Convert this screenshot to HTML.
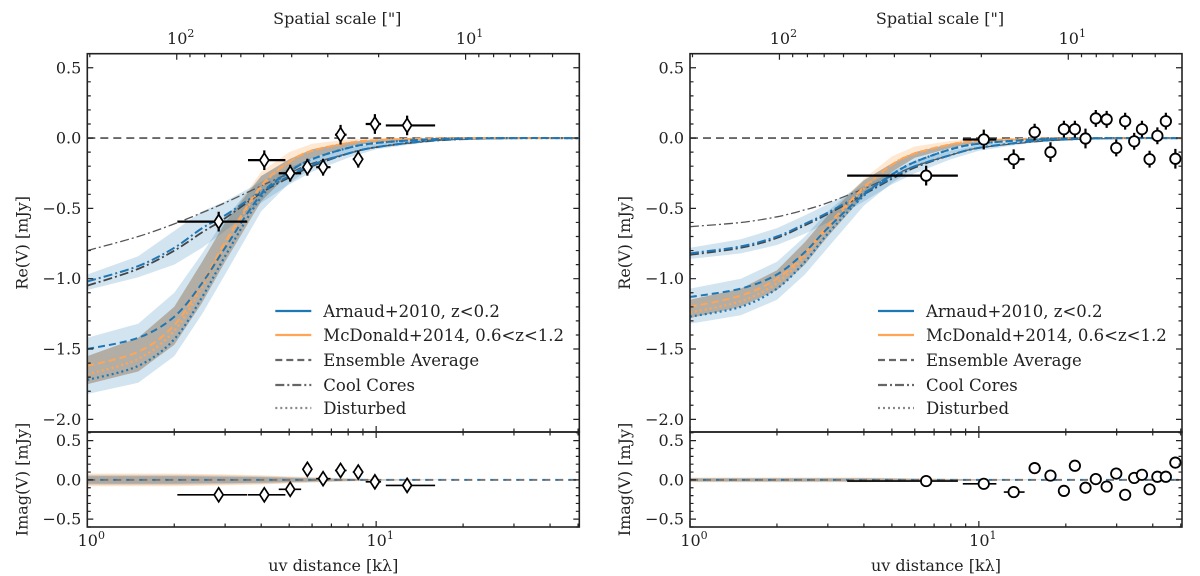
<!DOCTYPE html>
<html><head><meta charset="utf-8">
<style>
html,body{margin:0;padding:0;background:#fff;}
svg{display:block;}
text{font-family:"DejaVu Serif","Liberation Serif",serif;fill:#222;}
</style></head>
<body>
<svg id="fig" width="1200" height="576" viewBox="0 0 1200 576" xmlns="http://www.w3.org/2000/svg"></svg>
<script>
// ---- shared grid of uv distances for model curves ----
const XS = [1,1.5,2,2.5,3,4,5,6,8,10,15,20,30,50];
// ---- LEFT panel data ----
const L_ensBlue   = [-1.5,-1.42,-1.27,-1.03,-0.78,-0.4,-0.24,-0.15,-0.07,-0.035,-0.01,-0.003,0,0];
const L_ensOrange = [-1.62,-1.52,-1.33,-1.03,-0.74,-0.34,-0.17,-0.09,-0.035,-0.015,-0.003,0,0,0];
const L_distBlue  = [-1.72,-1.62,-1.43,-1.13,-0.84,-0.42,-0.24,-0.15,-0.07,-0.035,-0.01,-0.003,0,0];
const L_distOrange= [-1.68,-1.57,-1.37,-1.06,-0.76,-0.35,-0.17,-0.09,-0.035,-0.015,-0.003,0,0,0];
const L_coolBlue  = [-1.02,-0.91,-0.78,-0.64,-0.55,-0.38,-0.27,-0.19,-0.11,-0.065,-0.02,-0.006,0,0];
const L_coolGray  = [-1.05,-0.93,-0.8,-0.67,-0.57,-0.39,-0.28,-0.2,-0.11,-0.065,-0.02,-0.006,0,0];
const L_coolGray2 = [-0.8,-0.7,-0.61,-0.53,-0.46,-0.34,-0.25,-0.18,-0.11,-0.065,-0.025,-0.01,-0.002,0];
const L_bandBlueLo = [-1.82,-1.74,-1.55,-1.25,-0.97,-0.52,-0.32,-0.21,-0.11,-0.065,-0.02,-0.008,0,0];
const L_bandBlueHi = [-1.42,-1.32,-1.1,-0.82,-0.57,-0.27,-0.15,-0.08,-0.03,-0.01,0,0,0,0];
const L_bandOrLo = [-1.75,-1.66,-1.47,-1.17,-0.88,-0.45,-0.25,-0.14,-0.06,-0.03,-0.008,0,0,0];
const L_bandOrHi = [-1.55,-1.42,-1.2,-0.88,-0.6,-0.24,-0.1,-0.04,-0.01,0,0,0,0,0];
const L_bandCoolLo = [-1.08,-0.99,-0.9,-0.78,-0.66,-0.46,-0.33,-0.24,-0.14,-0.08,-0.03,-0.01,0,0];
const L_bandCoolHi = [-0.97,-0.84,-0.66,-0.52,-0.45,-0.31,-0.21,-0.14,-0.07,-0.04,-0.01,0,0,0];
const L_imBand = [0.08,0.08,0.08,0.075,0.07,0.06,0.045,0.035,0.02,0.01,0.003,0,0,0];
const L_reX  = [2.85,4.1,5.04,5.78,6.55,7.53,8.67,9.9,12.8];
const L_reY  = [-0.594,-0.157,-0.25,-0.207,-0.207,0.024,-0.15,0.1,0.09];
const L_xLo  = [2.05,3.6,4.6,5.6,6.2,7.2,8.3,9.2,10.8];
const L_xHi  = [3.58,4.85,5.5,5.95,6.95,7.9,9.0,10.4,16.0];
const L_reErr= [0.07,0.07,0.06,0.06,0.06,0.07,0.06,0.07,0.07];
const L_imY  = [-0.19,-0.19,-0.12,0.135,0.015,0.12,0.1,-0.025,-0.07];
// ---- RIGHT panel data ----
const R_ensBlue   = [-1.13,-1.07,-0.97,-0.81,-0.64,-0.4,-0.26,-0.17,-0.08,-0.04,-0.012,-0.004,0,0];
const R_ensOrange = [-1.2,-1.12,-1.0,-0.82,-0.62,-0.35,-0.19,-0.11,-0.045,-0.02,-0.005,0,0,0];
const R_distBlue  = [-1.27,-1.2,-1.07,-0.88,-0.68,-0.41,-0.26,-0.17,-0.08,-0.04,-0.012,-0.004,0,0];
const R_distOrange= [-1.24,-1.16,-1.03,-0.84,-0.64,-0.36,-0.19,-0.11,-0.045,-0.02,-0.005,0,0,0];
const R_coolBlue  = [-0.82,-0.77,-0.7,-0.61,-0.53,-0.39,-0.28,-0.2,-0.12,-0.07,-0.025,-0.01,0,0];
const R_coolGray  = [-0.83,-0.78,-0.71,-0.62,-0.54,-0.4,-0.29,-0.21,-0.12,-0.07,-0.025,-0.01,0,0];
const R_coolGray2 = [-0.63,-0.6,-0.56,-0.51,-0.46,-0.36,-0.27,-0.2,-0.12,-0.07,-0.03,-0.012,-0.003,0];
const R_bandBlueLo = [-1.32,-1.26,-1.15,-0.97,-0.78,-0.48,-0.32,-0.21,-0.11,-0.06,-0.02,-0.008,0,0];
const R_bandBlueHi = [-1.07,-1.0,-0.88,-0.7,-0.52,-0.3,-0.18,-0.1,-0.04,-0.02,-0.004,0,0,0];
const R_bandOrLo = [-1.28,-1.2,-1.08,-0.9,-0.7,-0.41,-0.24,-0.14,-0.07,-0.03,-0.01,0,0,0];
const R_bandOrHi = [-1.15,-1.07,-0.94,-0.74,-0.55,-0.29,-0.13,-0.06,-0.02,-0.005,0,0,0,0];
const R_bandCoolLo = [-0.86,-0.82,-0.76,-0.68,-0.6,-0.45,-0.33,-0.25,-0.15,-0.09,-0.035,-0.015,0,0];
const R_bandCoolHi = [-0.78,-0.72,-0.64,-0.55,-0.47,-0.34,-0.24,-0.16,-0.09,-0.05,-0.015,-0.005,0,0];
const R_imBand = [0.03,0.03,0.03,0.03,0.03,0.03,0.025,0.02,0.015,0.01,0.003,0,0,0];
const R_reX  = [6.57,10.4,13.2,15.6,17.7,19.7,21.5,23.4,25.4,27.7,29.9,32.1,34.5,36.7,39.0,41.5,44.4,47.9];
const R_reY  = [-0.267,-0.01,-0.15,0.042,-0.10,0.063,0.063,-0.003,0.14,0.133,-0.07,0.12,-0.023,0.063,-0.15,0.016,0.12,-0.147];
const R_xLo  = [3.5,8.8,12.2,14.9,17.2,19.2,21.0,23.0,25.0,27.2,29.5,31.7,34.0,36.2,38.5,41.0,43.9,47.2];
const R_xHi  = [8.46,11.5,14.4,16.4,18.3,20.2,22.0,23.9,25.9,28.2,30.4,32.6,35.0,37.2,39.5,42.0,45.0,48.6];
const R_reErr= [0.07,0.07,0.07,0.06,0.07,0.06,0.06,0.07,0.06,0.06,0.06,0.06,0.06,0.06,0.06,0.06,0.06,0.07];
const R_imY  = [-0.015,-0.05,-0.155,0.15,0.055,-0.14,0.18,-0.1,0.01,-0.085,0.08,-0.19,0.025,0.065,-0.12,0.04,0.04,0.22];
// ---- axis tick labels ----
const yTicksMain = [0.5,0.0,-0.5,-1.0,-1.5,-2.0];
const yTicksIm = [0.5,0.0,-0.5];
const legendLabels = ["Arnaud+2010, z<0.2","McDonald+2014, 0.6<z<1.2","Ensemble Average","Cool Cores","Disturbed"];

const NS="http://www.w3.org/2000/svg";
const svg=document.getElementById('fig');
function mk(tag,attrs,parent){const e=document.createElementNS(NS,tag);for(const k in attrs)e.setAttribute(k,attrs[k]);(parent||svg).appendChild(e);return e;}
const BLUE="#1f77b4", ORANGE="#ffa555", GRAY="#555";
const XMAX=50.5;
function fmt(v){const s=Math.abs(v).toFixed(1);return v<0?"\u2212"+s:s;}

function panel(P){
  const x0=P.x0,x1=P.x0+492, yT=53.7, yM=432, yB=527;
  const sx=v=>x0+(Math.log10(v)/Math.log10(XMAX))*(x1-x0);
  const syM=v=>yT+(0.6-v)/(0.6+2.09)*(yM-yT);
  const syI=v=>yM+(0.61-v)/(1.21)*(yB-yM);
  const g=mk('g',{});
  
  
  const clipId='clip'+P.name, clipId2='clipI'+P.name;
  const defs=mk('defs',{},g);
  const c1=mk('clipPath',{id:clipId},defs); mk('rect',{x:x0,y:yT,width:x1-x0,height:yM-yT},c1);
  const c2=mk('clipPath',{id:clipId2},defs); mk('rect',{x:x0,y:yM,width:x1-x0,height:yB-yM},c2);
  const gm=mk('g',{'clip-path':`url(#${clipId})`},g);
  const gi=mk('g',{'clip-path':`url(#${clipId2})`},g);
  function smooth(arr,sy){
    const pts=XS.map((x,i)=>[sx(x),sy(arr[i])]);let d='M'+pts[0][0]+','+pts[0][1];
    for(let i=0;i<pts.length-1;i++){const p0=pts[Math.max(0,i-1)],p1=pts[i],p2=pts[i+1],p3=pts[Math.min(pts.length-1,i+2)];
      const c1x=p1[0]+(p2[0]-p0[0])/6,c1y=p1[1]+(p2[1]-p0[1])/6,c2x=p2[0]-(p3[0]-p1[0])/6,c2y=p2[1]-(p3[1]-p1[1])/6;
      d+=`C${c1x.toFixed(1)},${c1y.toFixed(1)} ${c2x.toFixed(1)},${c2y.toFixed(1)} ${p2[0].toFixed(1)},${p2[1].toFixed(1)}`;}
    return d;}
  function band(lo,hi,sy,fill,name,par){
    const pts=XS.map((x,i)=>[sx(x),sy(hi[i])]).concat(XS.slice().reverse().map((x,j)=>{const i=XS.length-1-j;return [sx(x),sy(lo[i])];}));
    const e=mk('path',{d:'M'+pts.map(p=>p[0].toFixed(1)+','+p[1].toFixed(1)).join('L')+'Z',fill:fill,stroke:'none'},par);
    
    
  }
  band(P.bBlueLo,P.bBlueHi,syM,'rgba(31,119,180,0.2)','band-arnaud',gm);
  band(P.bOrLo,P.bOrHi,syM,'rgba(255,150,50,0.22)','band-mcdonald',gm);
  band(P.bCoolLo,P.bCoolHi,syM,'rgba(31,119,180,0.2)','band-cool-cores',gm);
  band(P.bOrLo.map((v,i)=>Math.max(v,P.bBlueLo[i])),P.bOrHi.map((v,i)=>Math.min(v,P.bBlueHi[i])),syM,'rgba(100,105,105,0.35)','band-overlap',gm);
  const z=mk('line',{x1:x0,x2:x1,y1:syM(0),y2:syM(0),stroke:'#666',"stroke-width":1.8,"stroke-dasharray":"8,5"},gm);
  
  
  const curves=[
    [P.coolGray2,GRAY,'9,3,2,3',1.3,'curve-cool-cores-gray-upper'],
    [P.coolGray,'#444','9,3,2,3',1.8,'curve-cool-cores-gray'],
    [P.coolBlue,BLUE,'9,3,2,3',2,'curve-cool-cores-arnaud'],
    [P.ensOrange,ORANGE,'7,4',2,'curve-ensemble-mcdonald'],
    [P.distOrange,ORANGE,'2,3',2.2,'curve-disturbed-mcdonald'],
    [P.ensBlue,BLUE,'7,4',2,'curve-ensemble-arnaud'],
    [P.distBlue,BLUE,'2,3',2.2,'curve-disturbed-arnaud']];
  curves.forEach(c=>{const e=mk('path',{d:smooth(c[0],syM),fill:'none',stroke:c[1],"stroke-width":c[3],"stroke-dasharray":c[2]},gm);
    
    });
  band(P.imBand.map(v=>-v),P.imBand,syI,'rgba(255,150,50,0.28)','im-band-mcdonald',gi);
  band(P.imBand.map(v=>-v*0.8),P.imBand.map(v=>v*0.8),syI,'rgba(31,119,180,0.18)','im-band-arnaud',gi);
  band(P.imBand.map(v=>-v*0.6),P.imBand.map(v=>v*0.6),syI,'rgba(100,100,100,0.35)','im-band-overlap',gi);
  const zi=mk('line',{x1:x0,x2:x1,y1:syI(0),y2:syI(0),stroke:'#777',"stroke-width":2,"stroke-dasharray":"8,5"},gi);
  
  
  const zb=mk('line',{x1:x0,x2:x1,y1:syI(0),y2:syI(0),stroke:BLUE,"stroke-width":1.5,"stroke-dasharray":"3,10"},gi);
  
  
  function marker(par,cx,cy,name){
    let e;
    if(P.diamond){e=mk('path',{d:`M${cx},${cy-7}L${cx+4.5},${cy}L${cx},${cy+7}L${cx-4.5},${cy}Z`,fill:'#fff',stroke:'#000',"stroke-width":1.7},par);}
    else{e=mk('circle',{cx:cx,cy:cy,r:5.2,fill:'#fff',stroke:'#000',"stroke-width":1.8},par);}
    
    
  }
  P.reX.forEach((x,i)=>{
    const cx=sx(x),cy=syM(P.reY[i]);
    const eb=mk('path',{d:`M${sx(P.xLo[i])},${cy}H${sx(P.xHi[i])}M${cx},${syM(P.reY[i]+P.reErr[i])}V${syM(P.reY[i]-P.reErr[i])}`,stroke:'#000',"stroke-width":2.2,fill:'none'},g);
    
    
    marker(g,cx,cy,'re-data-point');
    const ci=syI(P.imY[i]);
    const ebi=mk('path',{d:`M${sx(P.xLo[i])},${ci}H${sx(P.xHi[i])}M${cx},${syI(P.imY[i]+0.02)}V${syI(P.imY[i]-0.02)}`,stroke:'#000',"stroke-width":1.6,fill:'none'},g);
    
    
    marker(g,cx,ci,'im-data-point');
  });
  [[yT,yM],[yM,yB]].forEach(r=>{const f=mk('rect',{x:x0,y:r[0],width:x1-x0,height:r[1]-r[0],fill:'none',stroke:'#222',"stroke-width":1.6},g);
    
    });
  let tk='';
  const xmaj=[1,10],xmin=[2,3,4,5,6,7,8,9,20,30,40,50];
  const tops=[[2.04,6],[20.4,6]];
  [200,90,80,70,60,50,40,30,20,9,8,7,6,5].forEach(s=>{const u=204/s;if(u<=XMAX)tops.push([u,3]);});
  xmaj.forEach(v=>{const X=sx(v);tk+=`M${X},${yB}v-6M${X},${yM}v-6M${X},${yM}v6`;});
  xmin.forEach(v=>{const X=sx(v);tk+=`M${X},${yB}v-3.5M${X},${yM}v-3.5M${X},${yM}v3.5`;});
  tops.forEach(t=>{const X=sx(t[0]);tk+=`M${X},${yT}v${t[1]==6?6:3.5}`;});
  for(let k=-20;k<=6;k++){const v=k/10,Y=syM(v);const L=(k%5==0)?6:3.5;tk+=`M${x0},${Y}h${L}M${x1},${Y}h-${L}`;}
  for(let k=-6;k<=6;k++){const v=k/10,Y=syI(v);const L=(k%5==0)?6:3.5;tk+=`M${x0},${Y}h${L}M${x1},${Y}h-${L}`;}
  const te=mk('path',{d:tk,stroke:'#222',"stroke-width":1.2,fill:'none'},g);
  
  
  yTicksMain.forEach(v=>{const t=mk('text',{x:x0-6,y:syM(v)+5.5,'text-anchor':'end','font-size':16},g);t.textContent=fmt(v);
    });
  yTicksIm.forEach(v=>{const t=mk('text',{x:x0-6,y:syI(v)+5.5,'text-anchor':'end','font-size':16},g);t.textContent=fmt(v);
    });
  function pow(X,Y,e,name){const t=mk('text',{x:X,y:Y,'text-anchor':'middle','font-size':16},g);
    
    const a=mk('tspan',{},t);a.textContent='10';const b=mk('tspan',{dy:-7,'font-size':11},t);b.textContent=e;}
  pow(sx(1)+4,546,'0','x-tick-label');pow(sx(10)+4,546,'1','x-tick-label');
  pow(sx(2.04)+4,44,'2','top-tick-label');pow(sx(20.4)+4,44,'1','top-tick-label');
  const xt=mk('text',{x:(x0+x1)/2,y:571,'text-anchor':'middle','font-size':16},g);xt.textContent='uv distance [k\u03bb]';
  
  const tt=mk('text',{x:(x0+x1)/2+4,y:24,'text-anchor':'middle','font-size':16},g);tt.textContent='Spatial scale ["]';
  
  const yl=mk('text',{x:0,y:0,'text-anchor':'middle','font-size':16,transform:`translate(${x0-60},${(yT+yM)/2}) rotate(-90)`},g);yl.textContent='Re(V) [mJy]';
  
  const yl2=mk('text',{x:0,y:0,'text-anchor':'middle','font-size':16,transform:`translate(${x0-60},${(yM+yB)/2}) rotate(-90)`},g);yl2.textContent='Imag(V) [mJy]';
  
  const lx=x0+188,ly=[311,335,360,385,408];
  const styles=[[BLUE,''],[ORANGE,''],['#666','7,4'],['#666','9,3,2,3'],['#888','2,3']];
  legendLabels.forEach((lab,i)=>{
    const ge=mk('g',{},g);
    mk('line',{x1:lx,x2:lx+36,y1:ly[i],y2:ly[i],stroke:styles[i][0],"stroke-width":2.2,"stroke-dasharray":styles[i][1]},ge);
    const t=mk('text',{x:lx+48,y:ly[i]+6,'font-size':16.5},ge);t.textContent=lab;
  });
}
panel({name:'left-panel',x0:87.3,diamond:true,ensBlue:L_ensBlue,ensOrange:L_ensOrange,distBlue:L_distBlue,distOrange:L_distOrange,coolBlue:L_coolBlue,coolGray:L_coolGray,coolGray2:L_coolGray2,
  bBlueLo:L_bandBlueLo,bBlueHi:L_bandBlueHi,bOrLo:L_bandOrLo,bOrHi:L_bandOrHi,bCoolLo:L_bandCoolLo,bCoolHi:L_bandCoolHi,imBand:L_imBand,
  reX:L_reX,reY:L_reY,xLo:L_xLo,xHi:L_xHi,reErr:L_reErr,imY:L_imY});
panel({name:'right-panel',x0:690,diamond:false,ensBlue:R_ensBlue,ensOrange:R_ensOrange,distBlue:R_distBlue,distOrange:R_distOrange,coolBlue:R_coolBlue,coolGray:R_coolGray,coolGray2:R_coolGray2,
  bBlueLo:R_bandBlueLo,bBlueHi:R_bandBlueHi,bOrLo:R_bandOrLo,bOrHi:R_bandOrHi,bCoolLo:R_bandCoolLo,bCoolHi:R_bandCoolHi,imBand:R_imBand,
  reX:R_reX,reY:R_reY,xLo:R_xLo,xHi:R_xHi,reErr:R_reErr,imY:R_imY});
</script>
</body></html>
